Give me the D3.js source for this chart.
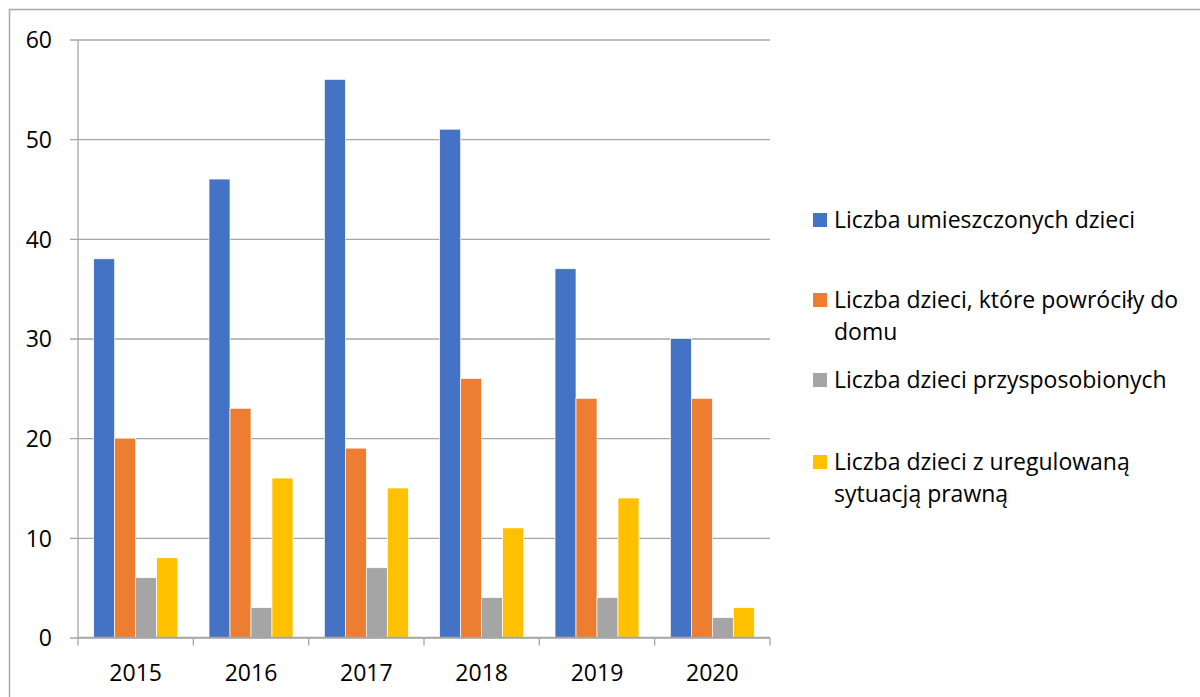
<!DOCTYPE html>
<html>
<head>
<meta charset="utf-8">
<script src="https://cdn.jsdelivr.net/npm/d3@7"></script>
<style>
  body { margin: 0; background: #fff; }
  svg text { font-family: "Open Sans", "Noto Sans", sans-serif; fill: #000; }
</style>
</head>
<body>
<div id="chart"></div>
<script>
const years = ["2015", "2016", "2017", "2018", "2019", "2020"];
const series_names = [
  "Liczba umieszczonych dzieci",
  "Liczba dzieci, które powróciły do domu",
  "Liczba dzieci przysposobionych",
  "Liczba dzieci z uregulowaną sytuacją prawną"
];
const legend_lines = [
  ["Liczba umieszczonych dzieci"],
  ["Liczba dzieci, które powróciły do", "domu"],
  ["Liczba dzieci przysposobionych"],
  ["Liczba dzieci z uregulowaną", "sytuacją prawną"]
];
const placed = [38, 46, 56, 51, 37, 30];
const returned_home = [20, 23, 19, 26, 24, 24];
const adopted = [6, 3, 7, 4, 4, 2];
const regulated = [8, 16, 15, 11, 14, 3];
const y_ticks = [0, 10, 20, 30, 40, 50, 60];
const colors = ["#4472C4", "#ED7D31", "#A5A5A5", "#FFC000"];

const all_values = [placed, returned_home, adopted, regulated];

let width = 1200, height = 697;
let plot = { left: 78, right: 770, top: 39.5, bottom: 637.5 };

let svg = d3.select("#chart").append("svg")
  .attr("width", width)
  .attr("height", height);

// outer chart frame, runs off the right and bottom edges
svg.append("rect")
  .attr("x", 9.5).attr("y", 9.5)
  .attr("width", 1300).attr("height", 800)
  .attr("fill", "none")
  .attr("stroke", "#a9a9a9")
  .attr("stroke-width", 1.5);

let y_scale = d3.scaleLinear().domain([0, 60]).range([plot.bottom, plot.top]);
let x_scale = d3.scaleBand()
  .domain(years)
  .range([plot.left, plot.right])
  .paddingInner(0.272)
  .paddingOuter(0.136);
let s_scale = d3.scaleBand()
  .domain(d3.range(series_names.length))
  .range([0, x_scale.bandwidth()]);

// gridlines + y labels
let y_axis = svg.append("g")
  .attr("transform", "translate(" + plot.left + ",0)")
  .call(d3.axisLeft(y_scale)
    .tickValues(y_ticks)
    .tickSize(-(plot.right - plot.left))
    .tickSizeOuter(0)
    .tickPadding(26));
y_axis.select(".domain").remove();
y_axis.selectAll(".tick line")
  .attr("x1", -8)
  .attr("stroke", "#a6a6a6")
  .attr("stroke-width", 1.3);
y_axis.selectAll(".tick text")
  .style("font-size", "23px")
  .attr("dy", "0.36em");

// left axis line
svg.append("line")
  .attr("x1", plot.left).attr("x2", plot.left)
  .attr("y1", plot.top).attr("y2", plot.bottom)
  .attr("stroke", "#a6a6a6")
  .attr("stroke-width", 1.3);

// bars
let groups = svg.append("g").selectAll("g")
  .data(all_values)
  .enter()
  .append("g")
  .attr("fill", (d, i) => colors[i]);

groups.each(function (vals, si) {
  d3.select(this).selectAll("rect")
    .data(vals)
    .enter()
    .append("rect")
    .attr("x", (d, i) => x_scale(years[i]) + s_scale(si))
    .attr("width", s_scale.bandwidth())
    .attr("y", d => y_scale(d))
    .attr("height", d => y_scale(0) - y_scale(d))
    .attr("stroke", "#fff")
    .attr("stroke-width", 0.7);
});

// x axis
let step = x_scale.step();
let x_axis = svg.append("g")
  .attr("transform", "translate(0," + plot.bottom + ")");
x_axis.append("line")
  .attr("x1", plot.left).attr("x2", plot.right)
  .attr("stroke", "#a6a6a6")
  .attr("stroke-width", 1.3);
x_axis.selectAll(".xtick")
  .data(d3.range(years.length + 1))
  .enter()
  .append("line")
  .attr("x1", i => plot.left + i * step)
  .attr("x2", i => plot.left + i * step)
  .attr("y1", 0).attr("y2", 8)
  .attr("stroke", "#a6a6a6")
  .attr("stroke-width", 1.3);
x_axis.selectAll(".xlabel")
  .data(years)
  .enter()
  .append("text")
  .attr("x", d => x_scale(d) + x_scale.bandwidth() / 2)
  .attr("y", 43)
  .attr("text-anchor", "middle")
  .style("font-size", "23px")
  .text(d => d);

// legend
let legend_y = [228, 308, 388, 470];
let legend = svg.append("g");
legend_lines.forEach((lines, i) => {
  let g = legend.append("g");
  g.append("rect")
    .attr("x", 813).attr("y", legend_y[i] - 15)
    .attr("width", 14).attr("height", 14)
    .attr("fill", colors[i]);
  lines.forEach((line, j) => {
    g.append("text")
      .attr("x", 834)
      .attr("y", legend_y[i] + j * 32)
      .style("font-size", "23px")
      .text(line);
  });
});
</script>
</body>
</html>
